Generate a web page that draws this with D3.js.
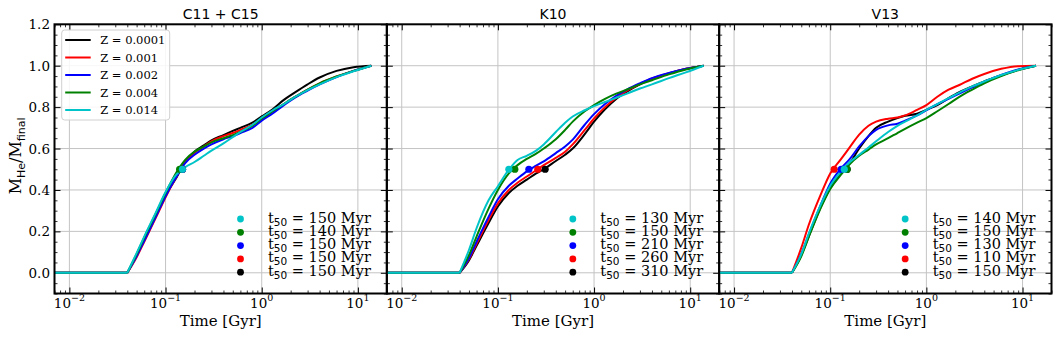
<!DOCTYPE html>
<html>
<head>
<meta charset="utf-8">
<script src="https://cdn.jsdelivr.net/npm/d3@7"></script>
<style>
  body { margin: 0; background: #fff; }
  text { font-family: "DejaVu Serif", serif; fill: #000; }
</style>
</head>
<body>
<div id="chart"></div>
<script>
// shared time grid (Gyr) for all curves
const timeGyr = [0.007, 0.04, 0.05, 0.06, 0.08, 0.1, 0.13, 0.16, 0.2, 0.25, 0.3, 0.4, 0.5, 0.6, 0.8, 1.0, 1.3, 1.7, 2.2, 3, 4, 6, 9, 13.8];

const zLabels = ["0.0001", "0.001", "0.002", "0.004", "0.014"];
const panelTitles = ["C11 + C15", "K10", "V13"];

// M_He / M_final, one row per metallicity (same order as zLabels)
const c11Frac = [
    [0, 0, 0.085, 0.165, 0.285, 0.375, 0.46, 0.535, 0.585, 0.615, 0.64, 0.665, 0.685, 0.70, 0.725, 0.755, 0.79, 0.835, 0.87, 0.91, 0.943, 0.975, 0.993, 1.0],
    [0, 0, 0.075, 0.15, 0.27, 0.365, 0.465, 0.535, 0.58, 0.61, 0.635, 0.66, 0.675, 0.69, 0.715, 0.745, 0.78, 0.815, 0.848, 0.885, 0.915, 0.948, 0.975, 1.0],
    [0, 0, 0.08, 0.155, 0.275, 0.37, 0.465, 0.53, 0.57, 0.60, 0.62, 0.645, 0.66, 0.675, 0.70, 0.735, 0.77, 0.81, 0.845, 0.88, 0.91, 0.945, 0.975, 1.0],
    [0, 0, 0.09, 0.17, 0.29, 0.385, 0.485, 0.545, 0.585, 0.61, 0.63, 0.65, 0.665, 0.68, 0.71, 0.745, 0.78, 0.815, 0.848, 0.885, 0.915, 0.948, 0.975, 1.0],
    [0, 0, 0.095, 0.175, 0.295, 0.39, 0.475, 0.51, 0.535, 0.565, 0.59, 0.625, 0.655, 0.68, 0.715, 0.75, 0.785, 0.815, 0.848, 0.882, 0.91, 0.945, 0.973, 1.0]
];
const k10Frac = [
    [0, 0, 0.06, 0.13, 0.24, 0.32, 0.385, 0.42, 0.45, 0.48, 0.50, 0.54, 0.57, 0.60, 0.67, 0.73, 0.79, 0.84, 0.875, 0.91, 0.935, 0.963, 0.984, 1.0],
    [0, 0, 0.065, 0.14, 0.255, 0.335, 0.40, 0.435, 0.465, 0.495, 0.52, 0.555, 0.585, 0.62, 0.69, 0.745, 0.80, 0.845, 0.88, 0.912, 0.938, 0.964, 0.985, 1.0],
    [0, 0, 0.07, 0.15, 0.27, 0.355, 0.42, 0.455, 0.49, 0.517, 0.538, 0.578, 0.61, 0.643, 0.715, 0.766, 0.815, 0.855, 0.885, 0.915, 0.94, 0.965, 0.985, 1.0],
    [0, 0, 0.085, 0.175, 0.31, 0.40, 0.48, 0.52, 0.55, 0.575, 0.60, 0.645, 0.69, 0.73, 0.78, 0.81, 0.84, 0.865, 0.885, 0.91, 0.93, 0.958, 0.982, 1.0],
    [0, 0, 0.11, 0.215, 0.35, 0.418, 0.498, 0.545, 0.565, 0.59, 0.62, 0.68, 0.725, 0.755, 0.785, 0.805, 0.825, 0.845, 0.865, 0.89, 0.91, 0.94, 0.968, 1.0]
];
const v13Frac = [
    [0, 0, 0.085, 0.177, 0.32, 0.41, 0.48, 0.53, 0.60, 0.66, 0.70, 0.73, 0.747, 0.758, 0.768, 0.787, 0.81, 0.843, 0.872, 0.90, 0.924, 0.953, 0.98, 1.0],
    [0, 0, 0.12, 0.233, 0.38, 0.48, 0.55, 0.607, 0.667, 0.71, 0.73, 0.744, 0.75, 0.76, 0.787, 0.81, 0.85, 0.884, 0.907, 0.937, 0.96, 0.985, 0.998, 1.0],
    [0, 0, 0.09, 0.185, 0.33, 0.43, 0.505, 0.55, 0.61, 0.66, 0.69, 0.712, 0.72, 0.735, 0.76, 0.785, 0.815, 0.84, 0.865, 0.895, 0.922, 0.955, 0.982, 1.0],
    [0, 0, 0.08, 0.175, 0.315, 0.405, 0.475, 0.525, 0.565, 0.595, 0.62, 0.65, 0.675, 0.695, 0.725, 0.747, 0.78, 0.815, 0.85, 0.885, 0.915, 0.95, 0.978, 1.0],
    [0, 0, 0.09, 0.19, 0.33, 0.42, 0.49, 0.535, 0.57, 0.605, 0.635, 0.68, 0.71, 0.73, 0.76, 0.787, 0.815, 0.843, 0.87, 0.90, 0.924, 0.955, 0.98, 1.0]
];

// t50 in Myr, same order as zLabels
const c11T50 = [150, 150, 150, 140, 150];
const k10T50 = [310, 260, 210, 150, 130];
const v13T50 = [150, 110, 130, 150, 140];

const xMajor = [0.01, 0.1, 1, 10];
const xMajorExp = ["\u22122", "\u22121", "0", "1"];
const yMajor = [0, 0.2, 0.4, 0.6, 0.8, 1.0, 1.2];

const colors = ["#000000", "#ff0000", "#0000ff", "#008000", "#00c4c8"];

const W = 1059, H = 337;
const plotL = 54.5, plotR = 1051.5, plotT = 24.3, plotB = 293.5;
const pw = (plotR - plotL) / 3, ph = plotB - plotT;

const svg = d3.select("#chart").append("svg")
    .attr("width", W)
    .attr("height", H);

const x = d3.scaleLog().domain([0.007, 20]).range([0, pw]);
const y = d3.scaleLinear().domain([-0.1, 1.2]).range([ph, 0]);

const xMinor = x.ticks().filter(d => !xMajor.some(m => Math.abs(m - d) < 1e-9));
const yMinor = d3.range(-0.1, 1.2001, 0.05).filter(d => !yMajor.some(m => Math.abs(m - d) < 1e-6));

const panels = [
    { title: panelTitles[0], frac: c11Frac, t50: c11T50 },
    { title: panelTitles[1], frac: k10Frac, t50: k10T50 },
    { title: panelTitles[2], frac: v13Frac, t50: v13T50 }
];

const flat = d3.line().x(d => x(d[0])).y(d => y(d[1]));
const smooth = d3.line().x(d => x(d[0])).y(d => y(d[1])).curve(d3.curveMonotoneX);

panels.forEach((p, pi) => {
    const g = svg.append("g").attr("transform", `translate(${plotL + pi * pw},${plotT})`);

    // grid
    g.append("g").selectAll("line").data(xMajor).join("line")
        .attr("x1", d => x(d)).attr("x2", d => x(d))
        .attr("y1", 0).attr("y2", ph)
        .attr("stroke", "#c4c4c4").attr("stroke-width", 1);
    g.append("g").selectAll("line").data(yMajor.slice(0, -1)).join("line")
        .attr("x1", 0).attr("x2", pw)
        .attr("y1", d => y(d)).attr("y2", d => y(d))
        .attr("stroke", "#c4c4c4").attr("stroke-width", 1);

    // inward ticks on all four sides
    const tickSets = [
        [d3.axisBottom(x).tickValues(xMajor), 6, `translate(0,${ph})`],
        [d3.axisBottom(x).tickValues(xMinor), 3, `translate(0,${ph})`],
        [d3.axisTop(x).tickValues(xMajor), 6, null],
        [d3.axisTop(x).tickValues(xMinor), 3, null],
        [d3.axisLeft(y).tickValues(yMajor), 6, null],
        [d3.axisLeft(y).tickValues(yMinor), 3, null],
        [d3.axisRight(y).tickValues(yMajor), 6, `translate(${pw},0)`],
        [d3.axisRight(y).tickValues(yMinor), 3, `translate(${pw},0)`]
    ];
    tickSets.forEach(([ax, len, tr]) => {
        const a = g.append("g").call(ax.tickSize(-len).tickFormat(""));
        if (tr) a.attr("transform", tr);
        a.select(".domain").remove();
        a.selectAll("line").attr("stroke", "#000").attr("stroke-width", len > 4 ? 1 : 0.8);
    });

    // curves
    p.frac.forEach((vals, i) => {
        const pts = timeGyr.map((t, k) => [t, vals[k]]);
        g.append("path").attr("d", flat(pts.slice(0, 2)))
            .attr("fill", "none").attr("stroke", colors[i]).attr("stroke-width", 2);
        g.append("path").attr("d", smooth(pts.slice(1)))
            .attr("fill", "none").attr("stroke", colors[i]).attr("stroke-width", 2);
    });

    // t50 markers
    g.append("g").selectAll("circle").data(p.t50).join("circle")
        .attr("cx", d => x(d / 1000)).attr("cy", y(0.5)).attr("r", 3.6)
        .attr("fill", (d, i) => colors[i]);

    // frame
    g.append("rect").attr("width", pw).attr("height", ph)
        .attr("fill", "none").attr("stroke", "#000").attr("stroke-width", 2);

    // title
    g.append("text").attr("x", pw / 2).attr("y", 19 - plotT)
        .attr("text-anchor", "middle")
        .style("font-family", "'DejaVu Sans', sans-serif").style("font-size", "14px")
        .text(p.title);

    // x tick labels 10^n
    xMajor.forEach((v, k) => {
        const t = g.append("text").attr("x", x(v)).attr("y", ph + 14.5)
            .attr("text-anchor", "middle").style("font-size", "13.5px");
        t.append("tspan").text("10");
        t.append("tspan").attr("dy", -6.5).style("font-size", "9.5px").text(xMajorExp[k]);
    });

    g.append("text").attr("x", pw / 2).attr("y", 326 - plotT)
        .attr("text-anchor", "middle").style("font-size", "15px")
        .text("Time [Gyr]");

    // t50 legend (listed from last metallicity to first)
    const order = [4, 3, 2, 1, 0];
    order.forEach((i, r) => {
        const ry = 219 - plotT + r * 13.3;
        g.append("circle").attr("cx", 186).attr("cy", ry).attr("r", 3.4).attr("fill", colors[i]);
        const t = g.append("text").attr("x", 213.5).attr("y", ry + 3.6).style("font-size", "14.5px");
        t.append("tspan").text("t");
        t.append("tspan").attr("dy", 3).style("font-family", "'DejaVu Sans', sans-serif")
            .style("font-size", "10.5px").text("50");
        t.append("tspan").attr("dy", -3).text(` = ${p.t50[i]} Myr`);
    });

    if (pi === 0) {
        // y tick labels
        g.append("g").selectAll("text").data(yMajor).join("text")
            .attr("x", -4.5).attr("y", d => y(d) + 5)
            .attr("text-anchor", "end").style("font-size", "13.5px")
            .text(d => d.toFixed(1));

        // metallicity legend
        const lg = g.append("g").attr("transform", `translate(${61.7 - plotL},${30 - plotT})`);
        lg.append("rect").attr("width", 108).attr("height", 90).attr("rx", 3)
            .attr("fill", "#fff").attr("fill-opacity", 0.85)
            .attr("stroke", "#d0d0d0").attr("stroke-width", 1);
        zLabels.forEach((z, i) => {
            const ly = 10 + i * 17.5;
            lg.append("line").attr("x1", 3.5).attr("x2", 29).attr("y1", ly).attr("y2", ly)
                .attr("stroke", colors[i]).attr("stroke-width", 2);
            lg.append("text").attr("x", 38.5).attr("y", ly + 4.3)
                .style("font-size", "11.5px").text(`Z = ${z}`);
        });
    }
});

// y label
const yl = svg.append("text")
    .attr("transform", `translate(21,${(plotT + plotB) / 2 - 3}) rotate(-90)`)
    .attr("text-anchor", "middle").style("font-size", "16px");
yl.append("tspan").text("M");
yl.append("tspan").attr("dy", 4).style("font-family", "'DejaVu Sans', sans-serif").style("font-size", "11px").text("He");
yl.append("tspan").attr("dy", -4).text("/M");
yl.append("tspan").attr("dy", 4).style("font-family", "'DejaVu Sans', sans-serif").style("font-size", "11px").text("final");
</script>
</body>
</html>
